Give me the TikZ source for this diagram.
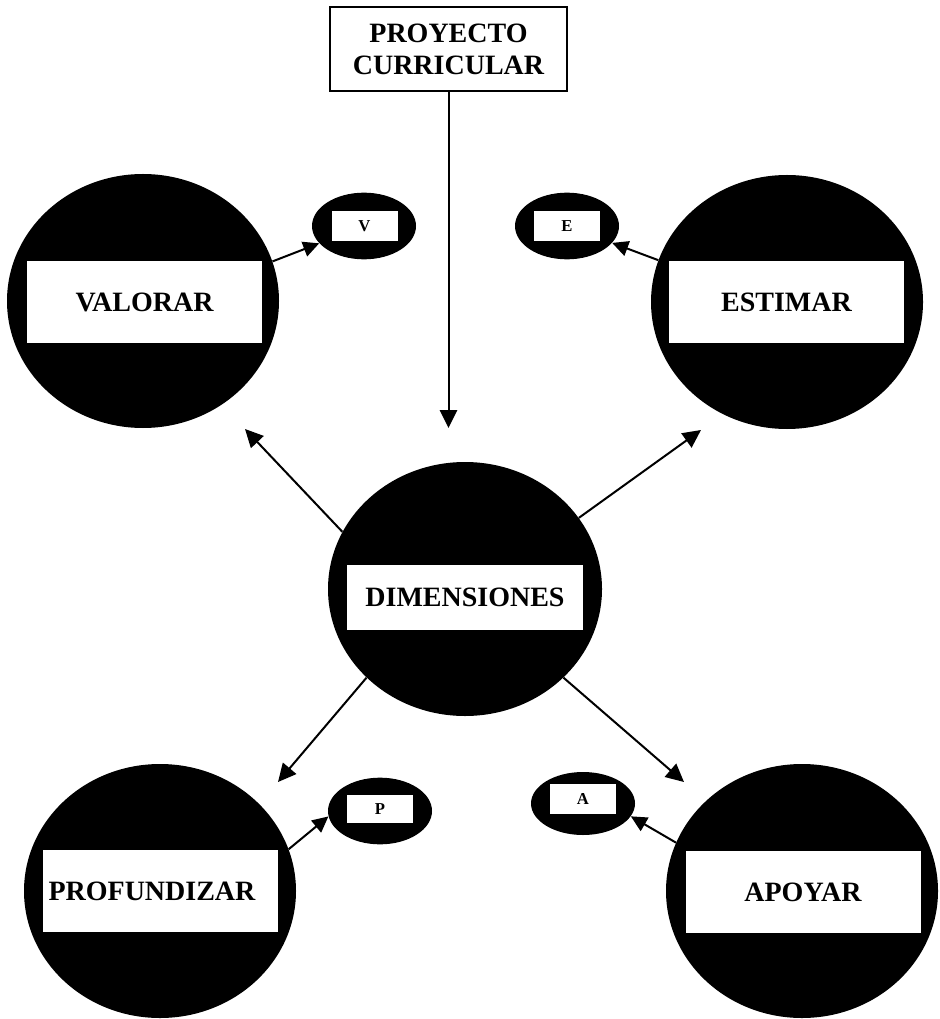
\documentclass[tikz,border=0pt]{standalone}
\usepackage{fontspec}
\setmainfont{Liberation Serif}
\usetikzlibrary{arrows.meta,shapes.geometric}
\begin{document}
\begin{tikzpicture}[x=0.75pt,y=-0.75pt,
  bigcirc/.style={ellipse, fill=black, draw=none, inner sep=0pt, minimum width=204pt, minimum height=190.5pt},
  bigrect/.style={rectangle, fill=white, draw=none, inner sep=0pt, minimum width=176.25pt, minimum height=61.5pt, font=\bfseries\fontsize{21}{24}\selectfont},
  smallell/.style={ellipse, fill=black, draw=none, inner sep=0pt, minimum width=78pt, minimum height=50pt},
  smallrect/.style={rectangle, fill=white, draw=none, inner sep=0pt, minimum width=49.5pt, minimum height=22.5pt, font=\bfseries\fontsize{12.5}{14}\selectfont},
  topbox/.style={rectangle, draw=black, line width=1.5pt, fill=white, inner sep=0pt, minimum width=177.75pt, minimum height=63pt, align=center, font=\bfseries\fontsize{21}{24}\selectfont},
  arr/.style={line width=1.5pt, -{Triangle[length=13.5pt,width=13pt]}},
  sarr/.style={line width=1.5pt, -{Triangle[length=12pt,width=11.5pt]}}
]
\useasboundingbox (0,0) rectangle (939,1019);
\fill[white] (0,0) rectangle (939,1019);

% top box
\node[topbox] (proj) at (448.5,49) {PROYECTO\\CURRICULAR};

% big circles
\node[bigcirc] (val) at (143,301) {};
\node[bigcirc] (est) at (787,302) {};
\node[bigcirc, minimum width=205.5pt] (dim) at (465,589) {};
\node[bigcirc] (prof) at (160,891) {};
\node[bigcirc] (apo) at (802,891) {};

% label rectangles
\node[bigrect] (valL) at (144.5,302) {VALORAR};
\node[bigrect] (estL) at (786.5,302.5) {ESTIMAR};
\node[bigrect, minimum width=177pt, minimum height=48.75pt] (dimL) at (465,597.5) {DIMENSIONES};
\node[bigrect] (profL) at (160,891) {};
\node[bigrect, fill=none] (profT) at (152,891) {PROFUNDIZAR};
\node[bigrect] (apoL) at (803,892) {APOYAR};

% small ellipses
\node[smallell] (V) at (364,226) {};
\node[smallell] (E) at (567,226) {};
\node[smallell] (P) at (380,811) {};
\node[smallell, minimum height=47.25pt] (A) at (583,803.5) {};

\node[smallrect] (VL) at (364.5,226.5) {V};
\node[smallrect] (EL) at (567,226.5) {E};
\node[smallrect, minimum height=21pt] (PL) at (380,809) {P};
\node[smallrect] (AL) at (583,798.5) {A};

% arrow tips (free ends)
\coordinate (tTop) at (448.5,428);
\coordinate (tUL) at (245,429);
\coordinate (tUR) at (701,430);
\coordinate (tLL) at (278,782);
\coordinate (tLR) at (684,782);

% connectors
\draw[arr] (proj.south) -- (tTop);
\draw[arr] (dim.155) -- (tUL);
\draw[arr] (dim.32) -- (tUR);
\draw[arr] (dim.222) -- (tLL);
\draw[arr] (dim.318) -- (tLR);

\draw[sarr] (val.17) -- (V);
\draw[sarr] (est.162) -- (E);
\draw[sarr] (prof.18) -- (P.186);
\draw[sarr] (apo.159) -- (A.345);
\end{tikzpicture}
\end{document}
